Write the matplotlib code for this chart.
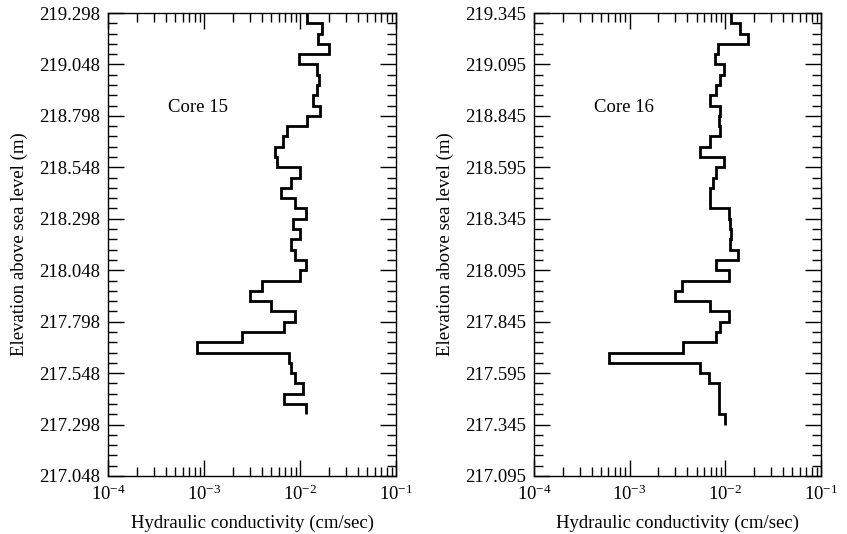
import matplotlib
matplotlib.use("Agg")
import matplotlib.pyplot as plt
from matplotlib.ticker import FixedLocator, MultipleLocator, FormatStrFormatter, LogLocator

plt.rcParams['font.family'] = ['Liberation Serif', 'DejaVu Serif']
plt.rcParams['mathtext.fontset'] = 'custom'
plt.rcParams['mathtext.rm'] = 'Liberation Serif'
plt.rcParams['mathtext.default'] = 'regular'

# Core 15: step edges (m above sea level) and hydraulic conductivity (cm/sec)
elev15 = [219.298, 219.248, 219.198, 219.148, 219.098, 219.048, 218.998, 218.948,
          218.898, 218.848, 218.798, 218.748, 218.698, 218.648, 218.598, 218.548,
          218.498, 218.448, 218.398, 218.348, 218.298, 218.248, 218.198, 218.148,
          218.098, 218.048, 217.998, 217.948, 217.898, 217.848, 217.798, 217.748,
          217.698, 217.648, 217.598, 217.548, 217.498, 217.448, 217.398, 217.348]
k15 = [0.0118, 0.0168, 0.0155, 0.0199, 0.0098, 0.0149, 0.0157, 0.0152, 0.0138, 0.0162,
       0.0119, 0.0074, 0.0066, 0.0055, 0.0058, 0.0100, 0.0080, 0.0063, 0.0089, 0.0115,
       0.0085, 0.0099, 0.0080, 0.0089, 0.0115, 0.0100, 0.0040, 0.0030, 0.0050, 0.0089,
       0.0068, 0.0025, 0.00084, 0.0076, 0.0080, 0.0089, 0.0107, 0.0068, 0.0116]

# Core 16
elev16 = [219.345, 219.295, 219.245, 219.195, 219.145, 219.095, 219.045, 218.995,
          218.945, 218.895, 218.845, 218.795, 218.745, 218.695, 218.645, 218.595,
          218.545, 218.495, 218.445, 218.395, 218.345, 218.295, 218.245, 218.195,
          218.145, 218.095, 218.045, 217.995, 217.945, 217.895, 217.845, 217.795,
          217.745, 217.695, 217.645, 217.595, 217.545, 217.495, 217.445, 217.395,
          217.345]
k16 = [0.0116, 0.0141, 0.0174, 0.0083, 0.0078, 0.0098, 0.0088, 0.0079, 0.0069, 0.0088,
       0.0086, 0.0088, 0.0069, 0.0055, 0.0098, 0.0079, 0.0074, 0.0069, 0.0069, 0.0109,
       0.0111, 0.0115, 0.0111, 0.0135, 0.0079, 0.0108, 0.0035, 0.0030, 0.0069, 0.0108,
       0.0088, 0.0079, 0.0036, 0.00061, 0.0055, 0.0068, 0.0085, 0.0085, 0.0085, 0.0100]

yticks15 = [217.048, 217.298, 217.548, 217.798, 218.048, 218.298, 218.548, 218.798, 219.048, 219.298]
yticks16 = [217.095, 217.345, 217.595, 217.845, 218.095, 218.345, 218.595, 218.845, 219.095, 219.345]

fig = plt.figure(figsize=(8.47, 5.34), dpi=100)
ax1 = fig.add_axes([108 / 847, 1 - 476 / 534, 288 / 847, 463 / 534])
ax2 = fig.add_axes([534 / 847, 1 - 476 / 534, 287 / 847, 463 / 534])


def draw(ax, edges, k, yticks, label):
    ax.stairs(k, edges, orientation='horizontal', baseline=None,
              color='black', linewidth=2.0)
    ax.set_xscale('log')
    ax.set_xlim(1e-4, 1e-1)
    ax.set_ylim(yticks[0], yticks[-1])
    ax.yaxis.set_major_locator(FixedLocator(yticks))
    ax.yaxis.set_minor_locator(MultipleLocator(0.05, offset=yticks[0] % 0.05))
    ax.yaxis.set_major_formatter(FormatStrFormatter('%.3f'))
    ax.xaxis.set_major_locator(LogLocator(base=10, numticks=10))
    ax.xaxis.set_minor_locator(LogLocator(base=10, subs=range(2, 10), numticks=10))
    ax.tick_params(which='both', direction='in', top=True, right=True,
                   labelsize=13.5, width=1.0)
    ax.tick_params(which='major', length=11.5, pad=6)
    ax.tick_params(which='minor', length=6.5)
    for s in ax.spines.values():
        s.set_linewidth(1.0)
    ax.set_xlabel('Hydraulic conductivity (cm/sec)', fontsize=13.5, labelpad=8)
    ax.set_ylabel('Elevation above sea level (m)', fontsize=13.5, labelpad=8)
    ax.text(0.208, 0.795, label, transform=ax.transAxes, fontsize=13.5,
            ha='left', va='center')


draw(ax1, elev15, k15, yticks15, 'Core 15')
draw(ax2, elev16, k16, yticks16, 'Core 16')

fig.savefig('out.png', dpi=100)
